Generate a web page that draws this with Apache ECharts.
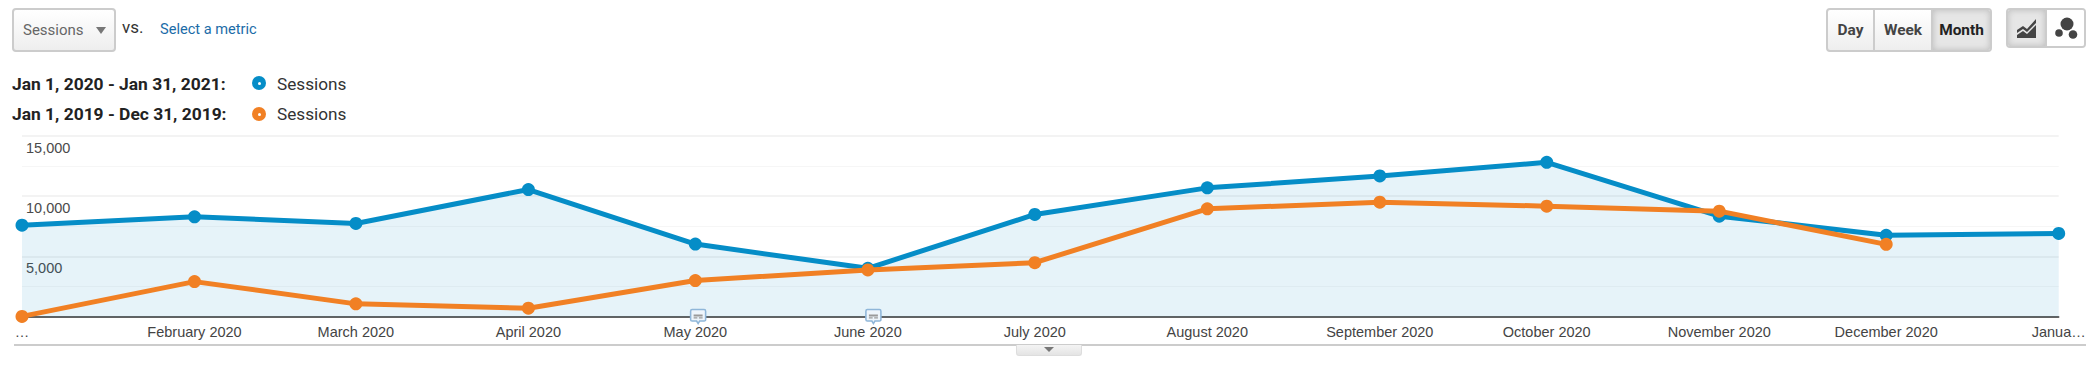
<!DOCTYPE html>
<html>
<head>
<meta charset="utf-8">
<title>Sessions</title>
<script src="https://cdn.jsdelivr.net/npm/echarts@6/dist/echarts.min.js"></script>
<style>
  html, body { margin: 0; padding: 0; background: #fff; }
  #page { position: relative; width: 2086px; height: 374px; overflow: hidden; font-family: Roboto, sans-serif; }
  #chart { position: absolute; left: 0; top: 0; width: 2086px; height: 374px; }
  .abs { position: absolute; white-space: nowrap; }
  .btn { box-sizing: border-box; border: 2px solid #ccc; border-radius: 4px; background: linear-gradient(#fff, #eee); }

  .select { left: 12px; top: 8px; width: 104px; height: 44px; }
  .select span { position: absolute; left: 9px; top: 11px; font-size: 15px; line-height: 18px; color: #666; }
  .select i { position: absolute; left: 82px; top: 17px; border: 5.5px solid transparent; border-top: 7px solid #777; border-bottom: 0; }
  .vs { left: 122px; top: 18px; font-size: 17px; line-height: 18px; color: #333; }
  .metric { left: 160px; top: 20px; font-size: 14.6px; line-height: 18px; color: #1b6ca8; }

  .legend-date { left: 12px; font-size: 17.4px; line-height: 20px; font-weight: 700; color: #222; }
  .legend-dot { left: 252px; width: 14px; height: 14px; border-radius: 50%; }
  .legend-dot::after { content: ''; position: absolute; left: 5.5px; top: 5.5px; width: 3px; height: 3px; border-radius: 50%; background: #fff; }
  .legend-name { left: 277px; font-size: 17.2px; line-height: 20px; color: #333; }

  .group { display: flex; overflow: hidden; padding: 0; }
  .group div { box-sizing: border-box; height: 100%; display: flex; align-items: center; justify-content: center; border-left: 2px solid #ccc; font-weight: 700; font-size: 15.4px; color: #444; }
  .group div:first-child { border-left: 0; }
  .group .on { background: #e6e6e6; box-shadow: inset 0 0 6px #bbb; color: #222; }

  .rule { left: 14px; top: 344px; width: 2072px; height: 2px; background: #ccc; }
  .tab { left: 1016px; top: 345px; width: 66px; height: 11px; box-sizing: border-box; background: linear-gradient(#f4f4f4, #e4e4e4); border: 1px solid #ddd; border-top: 0; border-radius: 0 0 3px 3px; }
  .tab i { position: absolute; left: 27px; top: 2px; border: 5px solid transparent; border-top: 5px solid #777; border-bottom: 0; }
</style>
</head>
<body>
<div id="page">
  <div id="chart"></div>

  <!-- 顶部控件 -->
  <div class="abs btn select"><span>Sessions</span><i></i></div>
  <div class="abs vs">vs.</div>
  <div class="abs metric">Select a metric</div>

  <div class="abs legend-date" style="top:74px">Jan 1, 2020 - Jan 31, 2021:</div>
  <div class="abs legend-dot" style="top:76px;background:#058dc7"></div>
  <div class="abs legend-name" style="top:74px">Sessions</div>
  <div class="abs legend-date" style="top:104px">Jan 1, 2019 - Dec 31, 2019:</div>
  <div class="abs legend-dot" style="top:107px;background:#f18024"></div>
  <div class="abs legend-name" style="top:104px">Sessions</div>

  <div class="abs btn group" style="left:1826px;top:8px;width:166px;height:44px">
    <div style="width:45px">Day</div>
    <div style="width:58px">Week</div>
    <div class="on" style="width:59px">Month</div>
  </div>
  <div class="abs btn group" style="left:2006px;top:8px;width:80px;height:40px">
    <div class="on" style="width:38px">
      <svg width="22" height="22" viewBox="0 0 22 22"><path d="M1 13 L7 9 L11 12 L20 2 L20 6 L11 15 L7 12 L1 16 Z M1 21 L1 18 L7 14 L11 17 L20 8 L20 21 Z" fill="#444"/></svg>
    </div>
    <div style="width:40px;background:#fff">
      <svg width="24" height="24" viewBox="0 0 24 24"><circle cx="13" cy="8" r="6.5" fill="#444"/><circle cx="5" cy="17" r="3.8" fill="#444"/><circle cx="19" cy="18.5" r="4.3" fill="#444"/></svg>
    </div>
  </div>

  <div class="abs rule"></div>
  <div class="abs tab"><i></i></div>
</div>

<script>
const monthDates = ['2020-01-01', '2020-02-01', '2020-03-01', '2020-04-01', '2020-05-01', '2020-06-01', '2020-07-01', '2020-08-01', '2020-09-01', '2020-10-01', '2020-11-01', '2020-12-01', '2021-01-01']
const monthLabels = ['…', 'February 2020', 'March 2020', 'April 2020', 'May 2020', 'June 2020', 'July 2020', 'August 2020', 'September 2020', 'October 2020', 'November 2020', 'December 2020', 'Janua…']
const sessions2020 = [7590, 8285, 7735, 10550, 6020, 4005, 8480, 10690, 11680, 12810, 8340, 6750, 6905]
const sessions2019 = [10, 2900, 1050, 690, 2985, 3870, 4475, 8950, 9500, 9170, 8755, 5995]
const noteDates = ['2020-05-01 12:00', '2020-06-02'] // 注释气泡

const BLUE = '#058dc7'
const ORANGE = '#f18024'
const BUBBLE = 'path://M2 0H18Q20 0 20 2V12Q20 14 18 14H12L10 17L8 14H2Q0 14 0 12V2Q0 0 2 0Z'
const GLYPH = 'path://M0 0H12V3H0ZM0 4H5V6H0ZM7 4H12V6H7Z'

const toPairs = values => values.map((v, i) => [monthDates[i], v])

const chart = echarts.init(document.getElementById('chart'), null, { renderer: 'svg' })

chart.setOption({
  animation: false,
  grid: { left: 22, right: 27.3, top: 136, bottom: 57.5, outerBoundsMode: 'none' },
  xAxis: {
    type: 'time',
    min: monthDates[0],
    max: monthDates[monthDates.length - 1],
    splitNumber: 12,
    minInterval: 28 * 864e5,
    maxInterval: 31 * 864e5,
    axisLine: { lineStyle: { color: '#333', width: 1.5 } },
    axisTick: { show: false },
    splitLine: { show: false },
    axisLabel: {
      margin: 8,
      color: '#444',
      fontFamily: 'Liberation Sans, Arial, sans-serif',
      fontSize: 14.5,
      hideOverlap: false,
      showMinLabel: true,
      showMaxLabel: true,
      formatter: (value) => {
        const d = new Date(value)
        const i = (d.getFullYear() - 2020) * 12 + d.getMonth()
        return monthLabels[i] || ''
      },
    },
  },
  yAxis: {
    type: 'value',
    min: 0,
    max: 15000,
    interval: 5000,
    axisLine: { show: false },
    axisTick: { show: false },
    minorTick: { show: false, splitNumber: 2 },
    splitLine: { lineStyle: { color: '#efefef', width: 1.6 } },
    minorSplitLine: { show: true, lineStyle: { color: '#f6f6f6', width: 1 } },
    axisLabel: {
      inside: true,
      margin: 4,
      verticalAlign: 'top',
      padding: [4, 0, 0, 0],
      color: '#4a4a4a',
      fontFamily: 'Liberation Sans, Arial, sans-serif',
      fontSize: 14.5,
      textBorderColor: '#fff',
      textBorderWidth: 2,
      formatter: v => (v === 0 ? '' : v.toLocaleString('en-US')),
    },
  },
  series: [
    {
      name: 'Sessions',
      type: 'line',
      data: toPairs(sessions2020),
      clip: false,
      symbol: 'circle',
      symbolSize: 13,
      lineStyle: { color: BLUE, width: 5 },
      itemStyle: { color: BLUE },
      areaStyle: { color: BLUE, opacity: 0.1 },
      z: 3,
      markPoint: {
        silent: true,
        animation: false,
        label: { show: false },
        data: noteDates.flatMap(d => [
          { coord: [d, 0], symbol: BUBBLE, symbolSize: [15, 14], itemStyle: { color: '#eef5fb', borderColor: '#8fb6d9', borderWidth: 1.5 } },
          { coord: [d, 0], symbol: GLYPH, symbolSize: [9, 4], itemStyle: { color: '#9a9a9a' } },
        ]),
      },
    },
    {
      name: 'Sessions',
      type: 'line',
      data: toPairs(sessions2019),
      clip: false,
      symbol: 'circle',
      symbolSize: 13,
      lineStyle: { color: ORANGE, width: 5 },
      itemStyle: { color: ORANGE },
      z: 4,
    },
  ],
})
</script>
</body>
</html>
